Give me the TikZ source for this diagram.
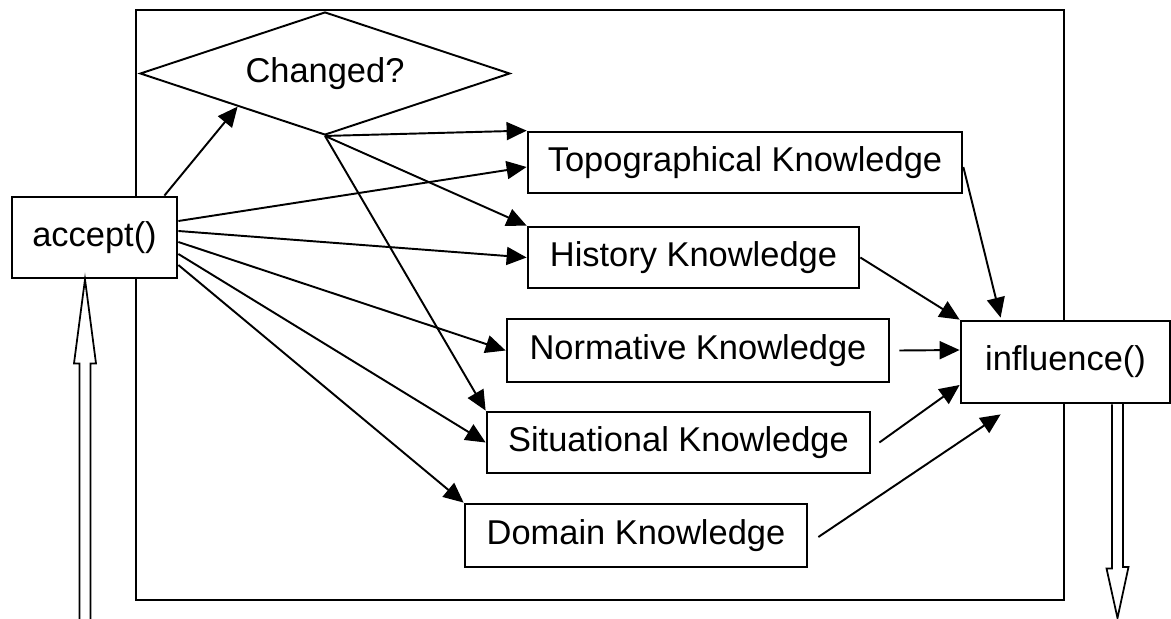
\documentclass[tikz,border=0pt]{standalone}
\usepackage{fontspec}
\setmainfont{Liberation Sans}
\usetikzlibrary{shapes.geometric,arrows.meta,calc}
\begin{document}
\begin{tikzpicture}[x=0.02cm, y=-0.02cm,
        every node/.style={font=\fontsize{19.6}{23}\selectfont},
        box/.style={draw, fill=white, line width=1.6pt, shape=rectangle, inner sep=0pt},
        link/.style={draw, line width=1.1pt, -{Triangle[length=0.4cm,width=0.36cm]}},
        hollow/.style={draw, line width=1pt, line join=miter}]
    \useasboundingbox (0,0) rectangle (1171,619);
    \draw[line width=1.6pt] (136,10) rectangle (1064,600);

    \node[shape=diamond, draw, fill=white, line width=1.1pt, aspect=3, inner sep=0pt,
          minimum width=7.4cm, minimum height=2.46cm] (chg) at (325,73.5) {Changed?};
    \node[box, minimum width=3.3cm, minimum height=1.62cm] (accept) at (94.5,237.5) {accept()};
    \node[box, minimum width=4.18cm, minimum height=1.64cm] (infl) at (1065.5,362) {influence()};
    \node[box, minimum width=8.68cm, minimum height=1.22cm] (topo) at (745,162.5) {Topographical Knowledge};
    \node[box, minimum width=6.62cm, minimum height=1.22cm] (hist) at (693.5,257.5) {History Knowledge};
    \node[box, minimum width=7.64cm, minimum height=1.26cm] (norm) at (698,350.5) {Normative Knowledge};
    \node[box, minimum width=7.66cm, minimum height=1.22cm] (sit) at (678.5,442.5) {Situational Knowledge};
    \node[box, minimum width=6.84cm, minimum height=1.26cm] (dom) at (636,535.5) {Domain Knowledge};

    \coordinate (inflow) at (85,619);
    \coordinate (outflow) at (1117.5,618);

    % accept() fans out
    \draw[link] ($(accept.north east)+(-14,0)$) -- ($(chg.west)!0.53!(chg.south)$);
    \draw[link] ($(accept.east)+(0,-16.5)$) -- ($(topo.west)+(0,4.5)$);
    \draw[link] ($(accept.east)+(0,-6.5)$) -- (hist.west);
    \draw[link] ($(accept.east)+(0,4.5)$) -- (norm.west);
    \draw[link] ($(accept.east)+(0,16.5)$) -- (sit.west);
    \draw[link] ($(accept.east)+(0,27.5)$) -- (dom.north west);

    \foreach \k in {topo, hist, sit}
        \draw[link] (chg.south) -- (\k.north west);

    % into influence()
    \draw[link] ($(topo.east)+(0,4.5)$) -- ($(infl.north west)+(41,-2)$);
    \draw[link] (hist.east) -- (infl.north west);
    \draw[link] ($(norm.east)+(9,0)$) -- ($(infl.west)+(0,-12)$);
    \draw[link] ($(sit.east)+(8,0)$) -- ($(infl.west)+(0,23)$);
    \draw[link] ($(dom.east)+(10,1.5)$) -- ($(infl.south west)+(41,10)$);

    % hollow in/out arrows
    \draw[hollow] ($(inflow)+(-5.5,6)$) -- ($(inflow |- accept.south)+(-5.5,84)$)
        -- ++(-5.5,0) -- (inflow |- accept.south) -- ++(11,84) -- ++(-5.5,0)
        -- ($(inflow)+(5.5,6)$);
    \draw[hollow] ($(infl.south -| outflow)+(-5.5,0)$) -- ++(0,164) -- ++(-5.5,0)
        -- (outflow) -- ++(11,-51) -- ++(-5.5,0) -- ++(0,-164);
\end{tikzpicture}
\end{document}
